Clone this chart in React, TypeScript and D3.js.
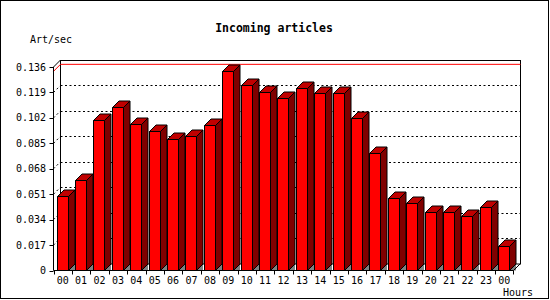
import React from 'react';
import * as d3 from 'd3';

// hourly incoming article rate (articles / second)
const hours = ['00', '01', '02', '03', '04', '05', '06', '07', '08', '09', '10', '11', '12',
  '13', '14', '15', '16', '17', '18', '19', '20', '21', '22', '23', '00'];
const rates = [0.0495, 0.0607, 0.1008, 0.1095, 0.0981, 0.0930, 0.0881, 0.0901, 0.0975, 0.1331,
  0.1238, 0.1195, 0.1155, 0.1222, 0.1189, 0.1189, 0.1021, 0.0787, 0.0486, 0.0453,
  0.0390, 0.0390, 0.0366, 0.0426, 0.0165];
const yTicks = [0, 0.017, 0.034, 0.051, 0.068, 0.085, 0.102, 0.119, 0.136];

const App: React.FC = () => {
  const width = 550;
  const height = 300;
  const depth = 7; // 3d offset of the back wall
  const barDepth = 6.5;
  const left = 53.5;
  const right = 513.5;
  const floor = 270.5;

  const x = d3.scaleBand<number>()
    .domain(hours.map((_, i) => i))
    .range([left, right]);
  const y = d3.scaleLinear().domain([0, 0.136]).range([floor, 67]);

  const maxVal = d3.max(rates) as number;
  const font = "'DejaVu Sans Mono', 'Liberation Mono', monospace";
  const fmt = (v: number) => (v === 0 ? '0' : v.toFixed(3));
  const pts = (p: number[][]) => p.map(d => d.join(',')).join(' ');

  return (
    <svg width={width} height={height} style={{ display: 'block', position: 'absolute', left: 0, top: 0 }}>
      <rect x={0} y={0} width={width} height={height} fill="#fff" />
      <rect x={0.5} y={0.5} width={548} height={298} fill="none" stroke="#000" />

      <text x={274} y={31.5} textAnchor="middle" fontFamily={font} fontWeight="bold" fontSize={11.5}>
        Incoming articles
      </text>
      <text x={30} y={43} fontFamily={font} fontSize={10}>Art/sec</text>

      {/* back wall grid */}
      {yTicks.slice(1, -1).map(t => (
        <g key={t} stroke="#000" strokeDasharray="2,2.5">
          <line x1={left + depth} x2={right + depth} y1={Math.round(y(t) - depth) + 0.5} y2={Math.round(y(t) - depth) + 0.5} />
          <line x1={left} x2={left + depth} y1={y(t)} y2={y(t) - depth} />
        </g>
      ))}
      <rect x={left + depth} y={y(0.136) - depth + 0.5} width={right - left}
        height={floor - y(0.136)} fill="none" stroke="#000" />

      {/* max line */}
      <polyline fill="none" stroke="#f00"
        points={pts([[left, y(maxVal)], [left + depth, y(maxVal) - depth], [right + depth, y(maxVal) - depth]])} />

      {/* bars */}
      {rates.map((v, i) => {
        const bx = Math.round((x(i) as number) + 3) + 0.5;
        const bw = 11;
        const yt = Math.round(y(v)) + 0.5;
        const bd = barDepth;
        return (
          <g key={i} stroke="#000" strokeLinejoin="round">
            <polygon fill="#808080" stroke="none"
              points={pts([[bx + bw, floor], [bx + bw + bd, floor - bd], [bx + bw + bd, floor]])} />
            <rect x={bx} y={yt} width={bw} height={floor - yt} fill="#f00" />
            <polygon fill="#800000"
              points={pts([[bx + bw, yt], [bx + bw + bd, yt - bd], [bx + bw + bd, floor - bd], [bx + bw, floor]])} />
            <polygon fill="#c00000"
              points={pts([[bx, yt], [bx + bd, yt - bd], [bx + bw + bd, yt - bd], [bx + bw, yt]])} />
          </g>
        );
      })}

      {/* front axes */}
      <g stroke="#000" fill="none">
        <line x1={left} x2={left} y1={y(0.136)} y2={floor} />
        <line x1={left} x2={left + depth} y1={y(0.136)} y2={y(0.136) - depth} />
        <line x1={left} x2={right} y1={floor} y2={floor} />
        <line x1={right} x2={right + depth} y1={floor} y2={floor - depth} />
      </g>

      {yTicks.map(t => (
        <g key={t}>
          <line x1={left - 4} x2={left} y1={Math.round(y(t)) + 0.5} y2={Math.round(y(t)) + 0.5} stroke="#000" />
          <text x={46} y={y(t)} dy="0.36em" textAnchor="end" fontFamily={font} fontSize={10}>{fmt(t)}</text>
        </g>
      ))}

      {hours.map((h, i) => {
        const bx = Math.round(x(i) as number) + 0.5;
        return (
          <g key={i}>
            <line x1={bx} x2={bx} y1={floor} y2={floor + 4} stroke="#000" />
            <text x={(x(i) as number) + x.bandwidth() / 2} y={283.5} textAnchor="middle"
              fontFamily={font} fontSize={10}>{h}</text>
          </g>
        );
      })}
      <line x1={right} x2={right} y1={floor} y2={floor + 4} stroke="#000" />
      <text x={533} y={295.5} textAnchor="end" fontFamily={font} fontSize={10}>Hours</text>
    </svg>
  );
};

export default App;
